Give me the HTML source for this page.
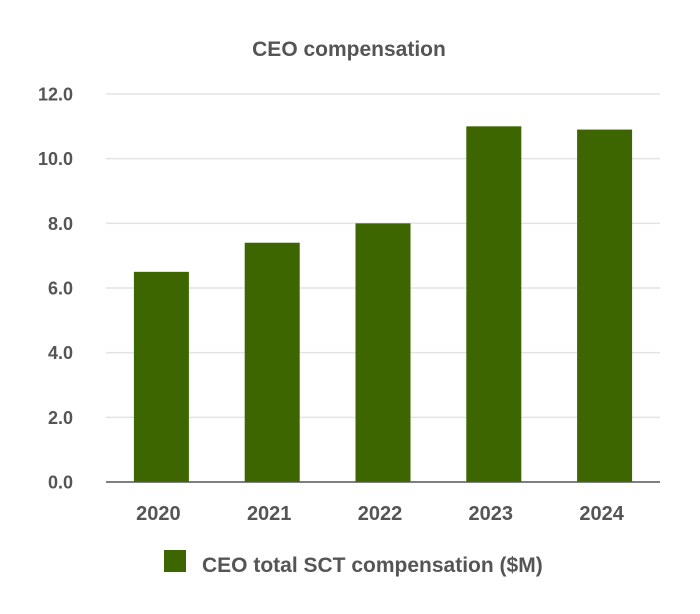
<!DOCTYPE html>
<html><head><meta charset="utf-8"><style>
html,body{margin:0;padding:0;background:#fff;}
svg{display:block;font-family:"Liberation Sans",Arial,sans-serif;}
</style></head><body>
<svg id="chart" width="700" height="614" viewBox="0 0 700 614">
<text x="349" y="56" text-anchor="middle" font-size="21" font-weight="bold" fill="#555">CEO compensation</text>
<g id="grid"></g><g id="bars"></g><g id="xlabels"></g><g id="ylabels"></g>
<line x1="106" x2="660" y1="482" y2="482" stroke="#555" stroke-width="1.5"/>
<rect x="164" y="550" width="22" height="22" fill="#3d6600"/>
<text x="202" y="572" font-size="21" font-weight="bold" fill="#555">CEO total SCT compensation ($M)</text>
</svg>
<script>
const categories=["2020","2021","2022","2023","2024"];
const values=[6.5,7.4,8.0,11.0,10.9];
const yTicks=[0,2,4,6,8,10,12];
const yTickLabels=["0.0","2.0","4.0","6.0","8.0","10.0","12.0"];
const NS="http://www.w3.org/2000/svg";
const x0=106,x1=660,y0=482,y1=94,yMax=12;
const y=v=>y0-(v/yMax)*(y0-y1);
const band=(x1-x0)/categories.length;
const xc=i=>x0+band*(i+0.5);
function mk(t,a,p){const e=document.createElementNS(NS,t);for(const k in a)e.setAttribute(k,a[k]);p.appendChild(e);return e;}
const grid=document.getElementById('grid'),yl=document.getElementById('ylabels');
yTicks.forEach((t,i)=>{
 if(t>0){const l=mk('line',{x1:x0,x2:x1,y1:y(t),y2:y(t),stroke:'#e3e3e3','stroke-width':1.5},grid);
 
 }
 const tx=mk('text',{x:73,y:y(t)+6.5,'text-anchor':'end','font-size':18,'font-weight':'bold',fill:'#555'},yl);
 tx.textContent=yTickLabels[i];
 
 
});
const bars=document.getElementById('bars'),xl=document.getElementById('xlabels');
categories.forEach((c,i)=>{
 const w=55;
 const r=mk('rect',{x:xc(i)-w/2,y:y(values[i]),width:w,height:y0-y(values[i]),fill:'#3d6600'},bars);
 
 
 const t=mk('text',{x:xc(i)-3,y:520,'text-anchor':'middle','font-size':20,'font-weight':'bold',fill:'#555'},xl);
 t.textContent=c;
 
 
});
</script>
</body></html>
